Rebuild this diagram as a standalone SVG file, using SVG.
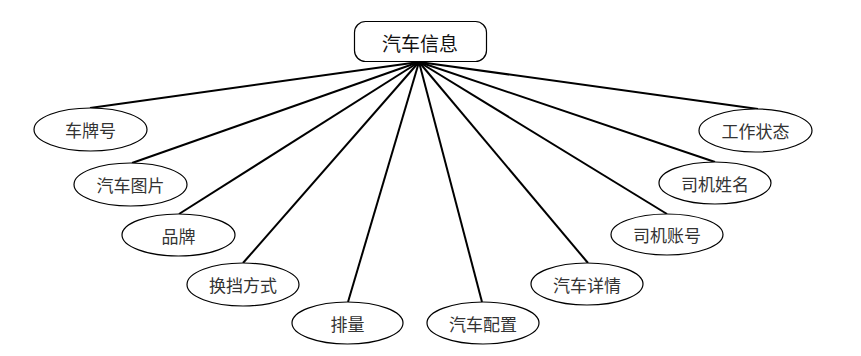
<svg xmlns="http://www.w3.org/2000/svg" width="861" height="356" viewBox="0 0 861 356">
<style>
.n ellipse{fill:#fff;stroke:#000;stroke-width:1.2}
.n text{font-family:"Noto Sans CJK SC","Microsoft YaHei",sans-serif;font-size:17px;fill:#333;text-anchor:middle;dominant-baseline:central}
.e line{stroke:#000;stroke-width:2}
</style>
<rect width="861" height="356" fill="#fff"/>
<g class="e" id="connectors">
<line x1="419" y1="62" x2="90" y2="108"/>
<line x1="419" y1="62" x2="132" y2="163"/>
<line x1="419" y1="62" x2="179" y2="214"/>
<line x1="419" y1="62" x2="243" y2="263"/>
<line x1="419" y1="62" x2="348" y2="302"/>
<line x1="419" y1="62" x2="482" y2="302"/>
<line x1="419" y1="62" x2="588" y2="263"/>
<line x1="419" y1="62" x2="667" y2="214"/>
<line x1="419" y1="62" x2="715" y2="162"/>
<line x1="419" y1="62" x2="758" y2="109"/>
</g>
<g id="root">
<rect x="354.5" y="21.5" width="132" height="40" rx="11" fill="#fff" stroke="#000" stroke-width="1.2"/>
<text x="420" y="42" font-family="Noto Sans CJK SC,sans-serif" font-size="19" fill="#111" text-anchor="middle" dominant-baseline="central">汽车信息</text>
</g>
<g class="n" id="n1"><ellipse cx="90.5" cy="129.5" rx="56.5" ry="21.5"/><text x="90.5" y="129.5">车牌号</text></g>
<g class="n" id="n2"><ellipse cx="130.5" cy="184.5" rx="56.5" ry="21.5"/><text x="130.5" y="184.5">汽车图片</text></g>
<g class="n" id="n3"><ellipse cx="178.5" cy="235" rx="56.5" ry="21"/><text x="178.5" y="235">品牌</text></g>
<g class="n" id="n4"><ellipse cx="243" cy="284.5" rx="56" ry="21.5"/><text x="243" y="284.5">换挡方式</text></g>
<g class="n" id="n5"><ellipse cx="347.5" cy="323" rx="55.5" ry="21"/><text x="347.5" y="323">排量</text></g>
<g class="n" id="n6"><ellipse cx="483" cy="323" rx="56" ry="21"/><text x="483" y="323">汽车配置</text></g>
<g class="n" id="n7"><ellipse cx="587" cy="284" rx="56" ry="21"/><text x="587" y="284">汽车详情</text></g>
<g class="n" id="n8"><ellipse cx="667" cy="234.5" rx="56" ry="20.5"/><text x="667" y="234.5">司机账号</text></g>
<g class="n" id="n9"><ellipse cx="715" cy="183" rx="56" ry="21"/><text x="715" y="183">司机姓名</text></g>
<g class="n" id="n10"><ellipse cx="755.5" cy="130.5" rx="56.5" ry="21.5"/><text x="755.5" y="130.5">工作状态</text></g>
</svg>
